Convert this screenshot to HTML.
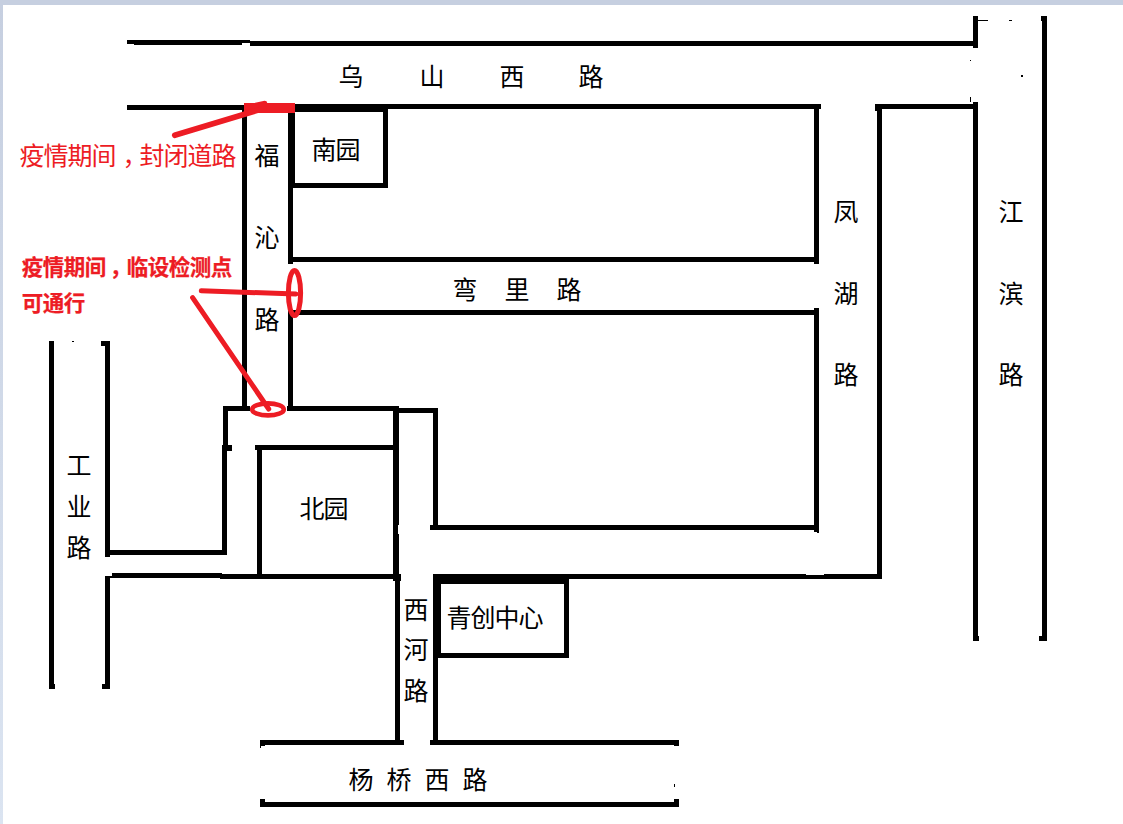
<!DOCTYPE html>
<html lang="zh-CN">
<head>
<meta charset="utf-8">
<title>疫情期间道路通行示意图</title>
<style>
html,body{margin:0;padding:0;background:#fff;}
body{width:1123px;height:824px;overflow:hidden;position:relative;font-family:"Liberation Sans","Noto Sans CJK SC",sans-serif;}
#top{position:absolute;left:0;top:0;width:1123px;height:5px;background:#c6cfe0;}
#left{position:absolute;left:0;top:0;width:3px;height:824px;background:linear-gradient(#c6cfe0,#dbe4f1);}
svg{position:absolute;left:0;top:0;}
svg text{font-family:"Liberation Sans","Noto Sans CJK SC",sans-serif;}
.k{font-size:25px;fill:#000;}
.r{font-size:25px;fill:#ed1c24;}
.rb{font-size:21.5px;fill:#ed1c24;font-weight:bold;stroke:#ed1c24;stroke-width:0.25px;}
</style>
</head>
<body>
<div id="top"></div>
<div id="left"></div>
<svg width="1123" height="824" viewBox="0 0 1123 824">
<g fill="#000" shape-rendering="crispEdges">
<rect x="127" y="40" width="7" height="4"/>
<rect x="134" y="40" width="108" height="5"/>
<rect x="242" y="40" width="8" height="3"/>
<rect x="250" y="41" width="728" height="5"/>
<rect x="973" y="16" width="5" height="32"/>
<rect x="127" y="105" width="115" height="5"/>
<rect x="295" y="104" width="93" height="8"/>
<rect x="388" y="104" width="433" height="5"/>
<rect x="814" y="104" width="5" height="160"/>
<rect x="288" y="257" width="531" height="5"/>
<rect x="288" y="104" width="7" height="84"/>
<rect x="288" y="188" width="5" height="76"/>
<rect x="383" y="104" width="5" height="84"/>
<rect x="288" y="183" width="100" height="5"/>
<rect x="242" y="105" width="5" height="306"/>
<rect x="288" y="310" width="531" height="5"/>
<rect x="814" y="308" width="5" height="224"/>
<rect x="817" y="530" width="2" height="3"/>
<rect x="430" y="525" width="389" height="5"/>
<rect x="433" y="408" width="5" height="122"/>
<rect x="288" y="310" width="5" height="101"/>
<rect x="287" y="406" width="111" height="5"/>
<rect x="398" y="408" width="40" height="5"/>
<rect x="393" y="406" width="6" height="174"/>
<rect x="395" y="574" width="5" height="171"/>
<rect x="393" y="574" width="8" height="7"/>
<rect x="223" y="406" width="27" height="5"/>
<rect x="223" y="406" width="5" height="39"/>
<rect x="222" y="445" width="10" height="6"/>
<rect x="222" y="445" width="5" height="110"/>
<rect x="105" y="550" width="122" height="5"/>
<rect x="49" y="341" width="5" height="348"/>
<rect x="72" y="341" width="2" height="1"/>
<rect x="49" y="684" width="6" height="5"/>
<rect x="105" y="341" width="5" height="216"/>
<rect x="101" y="341" width="9" height="5"/>
<rect x="105" y="576" width="5" height="113"/>
<rect x="105" y="576" width="7" height="2"/>
<rect x="102" y="684" width="8" height="5"/>
<rect x="112" y="573" width="110" height="5"/>
<rect x="220" y="574" width="181" height="5"/>
<rect x="255" y="445" width="139" height="5"/>
<rect x="257" y="445" width="5" height="133"/>
<rect x="433" y="574" width="136" height="10"/>
<rect x="433" y="574" width="8" height="84"/>
<rect x="564" y="577" width="5" height="81"/>
<rect x="433" y="653" width="136" height="5"/>
<rect x="433" y="658" width="5" height="87"/>
<rect x="569" y="574" width="313" height="5"/>
<rect x="877" y="104" width="5" height="475"/>
<rect x="875" y="104" width="103" height="5"/>
<rect x="875" y="104" width="7" height="7"/>
<rect x="970" y="97" width="1" height="5"/>
<rect x="978" y="20" width="10" height="1"/>
<rect x="1009" y="20" width="3" height="1"/>
<rect x="970" y="60" width="1" height="1"/>
<rect x="1021" y="75" width="2" height="2"/>
<rect x="1041" y="16" width="6" height="5"/>
<rect x="973" y="102" width="5" height="539"/>
<rect x="1042" y="16" width="5" height="625"/>
<rect x="973" y="636" width="6" height="5"/>
<rect x="1039" y="636" width="8" height="5"/>
<rect x="260" y="740" width="144" height="5"/>
<rect x="430" y="740" width="249" height="5"/>
<rect x="260" y="802" width="419" height="5"/>
<rect x="260" y="740" width="5" height="6"/>
<rect x="260" y="746" width="1" height="2"/>
<rect x="260" y="799" width="5" height="8"/>
<rect x="674" y="740" width="5" height="6"/>
<rect x="674" y="799" width="5" height="8"/>
<rect x="674" y="784" width="1" height="3"/>
</g>
<g fill="#fff" shape-rendering="crispEdges">
<rect x="806" y="574" width="18" height="1"/>
<rect x="398" y="525" width="1" height="9"/>
</g>
<g fill="#ed1c24" stroke="none">
<rect x="244" y="103" width="51" height="10" shape-rendering="crispEdges"/>
<polygon points="252,103.5 264.5,100.8 266.5,101.2 267.5,103.5"/>
</g>
<g fill="none" stroke="#ed1c24" stroke-linecap="round">
<line x1="174.7" y1="135.3" x2="264" y2="108.3" stroke-width="5.6"/>
<line x1="201.3" y1="290.8" x2="296" y2="294" stroke-width="5"/>
<line x1="192.6" y1="297.6" x2="268.7" y2="409" stroke-width="5"/>
<ellipse cx="294.5" cy="293" rx="6.1" ry="22.6" stroke-width="5"/>
<ellipse cx="268" cy="409.4" rx="15.8" ry="6" stroke-width="4.6"/>
</g>
<g>
<text class="k" x="338.5 419.5 499.5 578.5" y="85.7">乌山西路</text>
<text class="k" x="311.5 335.5" y="158.7">南园</text>
<text class="k" x="254.5 254.5 254.5" y="164.7 246.7 328.7">福沁路</text>
<text class="k" x="452.5 504.5 556.5" y="298.7">弯里路</text>
<text class="k" x="833.5 833.5 833.5" y="220.7 302.7 383.7">凤湖路</text>
<text class="k" x="998.5 998.5 998.5" y="220.7 302.7 383.7">江滨路</text>
<text class="k" x="66.5 66.5 66.5" y="474.7 515.7 556.7">工业路</text>
<text class="k" x="299.5 323.5" y="517.7">北园</text>
<text class="k" x="403.5 403.5 403.5" y="618.7 658.7 699.7">西河路</text>
<text class="k" x="446.5 470.5 494.5 518.5" y="626.7">青创中心</text>
<text class="k" x="348.5 386.5 424.5 462.5" y="788.7">杨桥西路</text>
<text class="r" x="19.5 43.5 67.5 91.5 122.5 139.5 163.5 187.5 211.5" y="164.7">疫情期间，封闭道路</text>
<text class="rb" x="21.7 42.7 63.7 84.7 109.7 126.7 147.7 168.7 189.7 210.7" y="275">疫情期间，临设检测点</text>
<text class="rb" x="21.7 42.7 63.7" y="311">可通行</text>
</g>
</svg>
</body>
</html>
